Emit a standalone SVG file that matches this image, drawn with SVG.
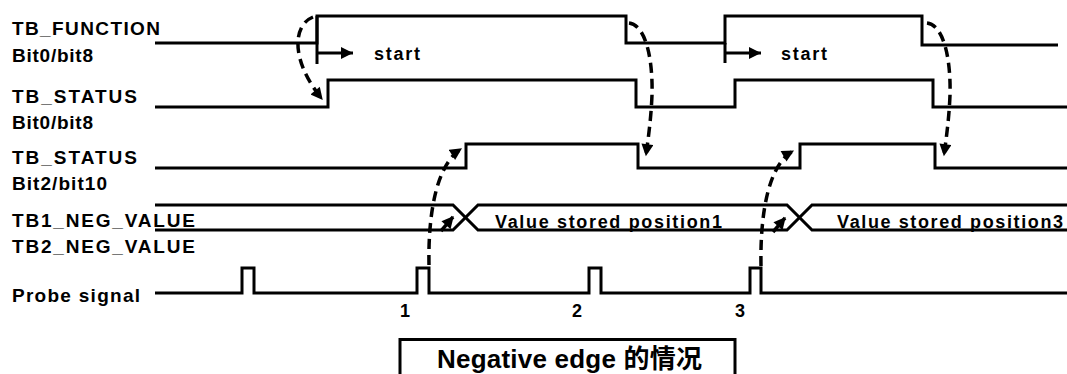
<svg xmlns="http://www.w3.org/2000/svg" width="1067" height="374" viewBox="0 0 1067 374">
<style>
.sig{fill:none;stroke:#000;stroke-width:3;stroke-linejoin:miter}
.dash{fill:none;stroke:#000;stroke-width:3.5;stroke-dasharray:10 6}
.lbl{font-family:"Liberation Sans",Arial,sans-serif;font-weight:bold;font-size:19px;fill:#000}
.small{font-family:"Liberation Sans",Arial,sans-serif;font-weight:bold;font-size:18px;fill:#000}
.num{font-family:"Liberation Sans",Arial,sans-serif;font-weight:bold;font-size:18px;fill:#000}
.title{font-family:"Liberation Sans",Arial,"Noto Sans CJK SC",sans-serif;font-weight:bold;font-size:26px;fill:#000}
</style>
<defs>
<marker id="ah" viewBox="0 0 10 10" refX="9" refY="5" markerWidth="13" markerHeight="12" markerUnits="userSpaceOnUse" orient="auto">
<path d="M0,0 L10,5 L0,10 z" fill="#000"/>
</marker>
<marker id="ahs" viewBox="0 0 10 10" refX="10" refY="5" markerWidth="12" markerHeight="14" markerUnits="userSpaceOnUse" orient="auto">
<path d="M0,0 L10,5 L0,10 z" fill="#000"/>
</marker>
</defs>
<rect width="1067" height="374" fill="#fff"/>
<g id="tb_function">
<text class="lbl" x="12" y="35" textLength="148" lengthAdjust="spacing">TB_FUNCTION</text>
<text class="lbl" x="12" y="62" textLength="81" lengthAdjust="spacing">Bit0/bit8</text>
<path class="sig" d="M155 43 H317 V16 H626 V43 H725 V16 H922 V45 H1058"/>
<path class="sig" d="M317 16 V64 M725 43 V63"/>
<path class="sig" d="M317 53 H353" marker-end="url(#ahs)"/>
<path class="sig" d="M725 53 H761" marker-end="url(#ahs)"/>
<text class="small" x="374" y="60" textLength="46" lengthAdjust="spacing">start</text>
<text class="small" x="781" y="60" textLength="46" lengthAdjust="spacing">start</text>
</g>
<g id="tb_status_bit0">
<text class="lbl" x="12" y="103" textLength="125" lengthAdjust="spacing">TB_STATUS</text>
<text class="lbl" x="12" y="129" textLength="81" lengthAdjust="spacing">Bit0/bit8</text>
<path class="sig" d="M155 107 H328 V80 H636 V107 H735 V80 H933 V107 H1067"/>
</g>
<g id="tb_status_bit2">
<text class="lbl" x="12" y="164" textLength="125" lengthAdjust="spacing">TB_STATUS</text>
<text class="lbl" x="12" y="190" textLength="95" lengthAdjust="spacing">Bit2/bit10</text>
<path class="sig" d="M155 168 H466 V144 H638 V168 H800 V144 H935 V168 H1067"/>
</g>
<g id="neg_value">
<text class="lbl" x="12" y="227" textLength="183" lengthAdjust="spacing">TB1_NEG_VALUE</text>
<text class="lbl" x="12" y="253" textLength="183" lengthAdjust="spacing">TB2_NEG_VALUE</text>
<path class="sig" d="M155 205 H453 L478 230 H787 L812 205 H1067"/>
<path class="sig" d="M155 230 H453 L478 205 H787 L812 230 H1067"/>
<text class="small" x="495" y="228" textLength="227" lengthAdjust="spacing">Value stored position1</text>
<text class="small" x="837" y="228" textLength="226" lengthAdjust="spacing">Value stored position3</text>
</g>
<g id="probe">
<text class="lbl" x="12" y="302" textLength="128" lengthAdjust="spacing">Probe signal</text>
<path class="sig" d="M155 293 H242 V268 H254 V293 H417 V268 H429 V293 H589 V268 H601 V293 H750 V268 H761 V293 H1067"/>
<text class="num" x="405" y="317" text-anchor="middle">1</text>
<text class="num" x="577" y="317" text-anchor="middle">2</text>
<text class="num" x="740" y="317" text-anchor="middle">3</text>
</g>
<g id="caption">
<rect x="400" y="339.5" width="335" height="50" fill="none" stroke="#000" stroke-width="3"/>
<text class="title" x="437" y="368" textLength="265" lengthAdjust="spacing">Negative edge 的情况</text>
</g>
<g id="connectors">
<path class="dash" d="M313 17 C293 25, 290 60, 322 99" marker-end="url(#ah)"/>
<path class="dash" d="M629 23 C646 25, 653 60, 652 95 C651 120, 648 140, 646 155" marker-end="url(#ah)"/>
<path class="dash" d="M927 23 C944 25, 951 60, 950 95 C949 120, 946 140, 944 155" marker-end="url(#ah)"/>
<path class="dash" d="M429 265 C428 215, 436 165, 461 149" marker-end="url(#ah)"/>
<path class="dash" d="M441 231 L453 217" marker-end="url(#ah)"/>
<path class="dash" d="M761 266 C760 215, 768 165, 793 151" marker-end="url(#ah)"/>
<path class="dash" d="M773 232 L785 218" marker-end="url(#ah)"/>
</g>
</svg>
